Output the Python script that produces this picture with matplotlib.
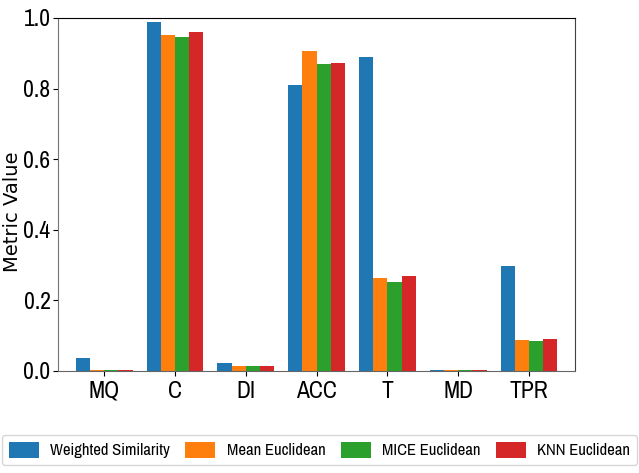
import numpy as np
import matplotlib
matplotlib.use('Agg')
import matplotlib.pyplot as plt
from matplotlib import font_manager
from matplotlib.font_manager import FontProperties

# look for a narrow face (preferred) or a condensed one to mimic the squeezed text
def find_face(key):
    for f in font_manager.fontManager.ttflist:
        low = f.fname.lower()
        if key in low and not any(s in low for s in ('bold', 'italic', 'oblique', 'light')):
            return f.fname
    return None

narrow_file = find_face('narrow')
cond_file = find_face('condensed')

metrics = ['MQ', 'C', 'DI', 'ACC', 'T', 'MD', 'TPR']
weighted_similarity = [0.037, 0.989, 0.022, 0.810, 0.889, 0.002, 0.297]
mean_euclidean = [0.001, 0.952, 0.014, 0.906, 0.263, 0.001, 0.088]
mice_euclidean = [0.001, 0.946, 0.014, 0.870, 0.252, 0.001, 0.085]
knn_euclidean = [0.001, 0.960, 0.014, 0.873, 0.269, 0.001, 0.091]

series = [
    ('Weighted Similarity', weighted_similarity, '#1f77b4'),
    ('Mean Euclidean', mean_euclidean, '#ff7f0e'),
    ('MICE Euclidean', mice_euclidean, '#2ca02c'),
    ('KNN Euclidean', knn_euclidean, '#d62728'),
]

if narrow_file:
    xt_fp = FontProperties(fname=narrow_file, size=17)
    yt_fp = FontProperties(fname=narrow_file, size=17)
    leg_fp = FontProperties(fname=narrow_file, size=12)
elif cond_file:
    xt_fp = FontProperties(fname=cond_file, size=15)
    yt_fp = FontProperties(fname=cond_file, size=14.5)
    leg_fp = FontProperties(fname=cond_file, size=10.5)
else:
    xt_fp = FontProperties(family='DejaVu Sans', size=14)
    yt_fp = FontProperties(family='DejaVu Sans', size=13)
    leg_fp = FontProperties(family='DejaVu Sans', size=9)

fig = plt.figure(figsize=(6.39, 4.73), dpi=100)
ax = fig.add_axes([0.091, 0.216, 0.809, 0.746])

x = np.arange(len(metrics))
width = 0.2
for i, (name, vals, color) in enumerate(series):
    ax.bar(x + (i - 1.5) * width, vals, width, label=name, color=color)

ax.set_xticks(x)
ax.set_xticklabels(metrics, fontproperties=xt_fp)
ax.set_ylim(0, 1.0)
ax.set_xlim(-0.65, len(metrics) - 0.35)
ax.set_yticks([0.0, 0.2, 0.4, 0.6, 0.8, 1.0])
ax.set_yticklabels(['0.0', '0.2', '0.4', '0.6', '0.8', '1.0'], fontproperties=yt_fp)
ax.tick_params(axis='y', pad=2)
ax.set_ylabel('Metric Value', fontsize=14)
ax.yaxis.set_label_coords(-0.069, 0.45)
ax.spines['left'].set_color('0.45')
ax.spines['bottom'].set_color('0.4')
ax.spines['right'].set_color('0.25')

handles, labels = ax.get_legend_handles_labels()
fig.legend(handles, labels, loc='upper left', bbox_to_anchor=(0.003, 0.0, 0.994, 0.0803),
           mode='expand', ncol=4, prop=leg_fp, borderaxespad=0,
           handlelength=1.8, handleheight=1.1, handletextpad=0.7, columnspacing=1.2)

plt.savefig('out.png', dpi=100)
